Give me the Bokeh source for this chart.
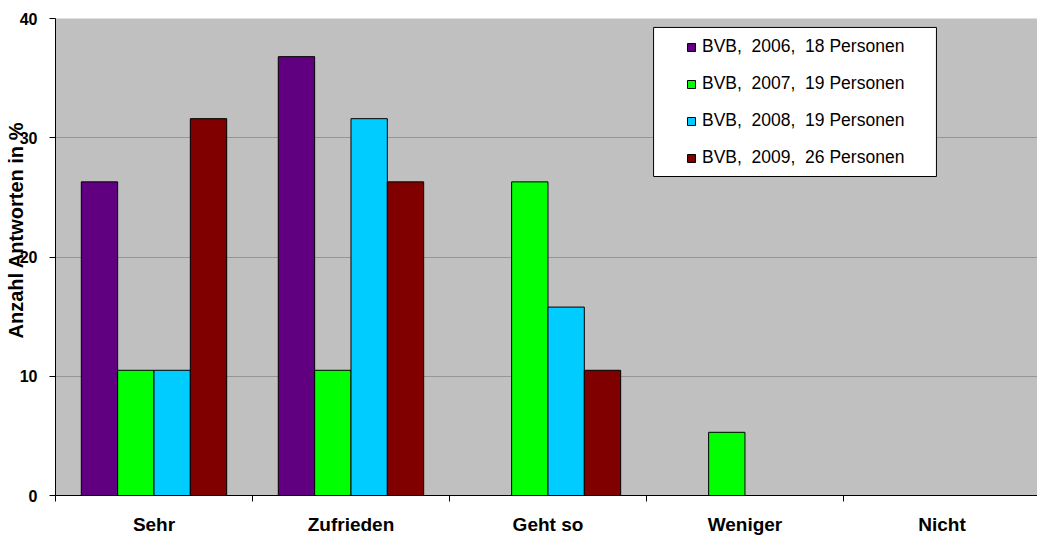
from bokeh.plotting import figure
from bokeh.models import (ColumnDataSource, Range1d, FixedTicker, Legend, LegendItem,
                          Title, BoxAnnotation)
from bokeh.embed import file_html
from bokeh.resources import INLINE

categories = ["Sehr", "Zufrieden", "Geht so", "Weniger", "Nicht"]
series_names = ["BVB,  2006,  18 Personen", "BVB,  2007,  19 Personen",
                "BVB,  2008,  19 Personen", "BVB,  2009,  26 Personen"]
v2006 = [26.3, 36.8, 0.0, 0.0, 0.0]
v2007 = [10.5, 10.5, 26.3, 5.3, 0.0]
v2008 = [10.5, 31.6, 15.8, 0.0, 0.0]
v2009 = [31.6, 26.3, 10.5, 0.0, 0.0]
y_ticks = [0, 10, 20, 30, 40]
y_title = "Anzahl Antworten in %"

colors = ["#600080", "#00ff00", "#00ccff", "#800000"]
FONT = "Liberation Sans"

p = figure(width=1037, height=537, output_backend="svg", toolbar_location=None,
           x_range=Range1d(0, 4.985), y_range=Range1d(0, 40),
           min_border_left=55, min_border_top=18, min_border_bottom=42, min_border_right=0)
p.background_fill_color = "#c0c0c0"
p.outline_line_color = None
p.border_fill_color = "white"

bw = 0.1845
renderers = []
for i, vals in enumerate([v2006, v2007, v2008, v2009]):
    xs = [c + 0.5 + (i - 1.5) * bw for c in range(len(categories))]
    src = ColumnDataSource(dict(x=xs, top=vals))
    r = p.vbar(x="x", top="top", width=bw, bottom=0, source=src,
               fill_color=colors[i], line_color="black", line_width=1)
    renderers.append(r)

# x axis: labels at centres, tick marks at boundaries
xt = FixedTicker(ticks=[c + 0.5 for c in range(len(categories))],
                 minor_ticks=list(range(len(categories) + 1)))
p.xaxis.ticker = xt
p.xaxis.major_label_overrides = {c + 0.5: name for c, name in enumerate(categories)}
p.xaxis.major_tick_out = 0
p.xaxis.major_tick_in = 0
p.xaxis.minor_tick_out = 6
p.xaxis.minor_tick_in = 0
p.xaxis.minor_tick_line_color = "black"
p.xaxis.axis_line_color = "black"
p.xaxis.major_label_standoff = 12
p.xaxis.major_label_text_font = FONT
p.xaxis.major_label_text_font_style = "bold"
p.xaxis.major_label_text_font_size = "19px"
p.xaxis.major_label_text_color = "black"
p.xgrid.visible = False

p.yaxis.ticker = FixedTicker(ticks=y_ticks, minor_ticks=[])
p.yaxis.major_tick_out = 6
p.yaxis.major_tick_in = 0
p.yaxis.major_tick_line_color = "black"
p.yaxis.axis_line_color = "black"
p.yaxis.major_label_standoff = 12
p.yaxis.major_label_text_font = FONT
p.yaxis.major_label_text_font_style = "bold"
p.yaxis.major_label_text_font_size = "16px"
p.yaxis.major_label_text_color = "black"
p.ygrid.grid_line_color = "#969696"
p.ygrid.ticker = FixedTicker(ticks=y_ticks)

# y axis title (as a side title, positioned along the axis, overlapping tick labels)
p.add_layout(Title(text=y_title, align="left", offset=157, vertical_align="bottom",
                   standoff=-20, text_font=FONT, text_font_style="bold",
                   text_font_size="20px", text_color="black"), "left")

# legend box
p.add_layout(BoxAnnotation(left=3.036, right=4.472, bottom=26.75, top=39.25,
                           fill_color="white", fill_alpha=1, line_color="black",
                           line_width=1, line_alpha=1, level="overlay"))

legend = Legend(items=[LegendItem(label=n, renderers=[r]) for n, r in zip(series_names, renderers)],
                location=(631, 327), orientation="vertical", padding=0, margin=0,
                spacing=16, label_height=20, glyph_height=10, glyph_width=10,
                label_standoff=6, background_fill_alpha=0, border_line_alpha=0,
                label_text_font=FONT, label_text_font_size="17.5px", label_text_color="black")
p.add_layout(legend)

open("out.html", "w").write(file_html(p, INLINE))
